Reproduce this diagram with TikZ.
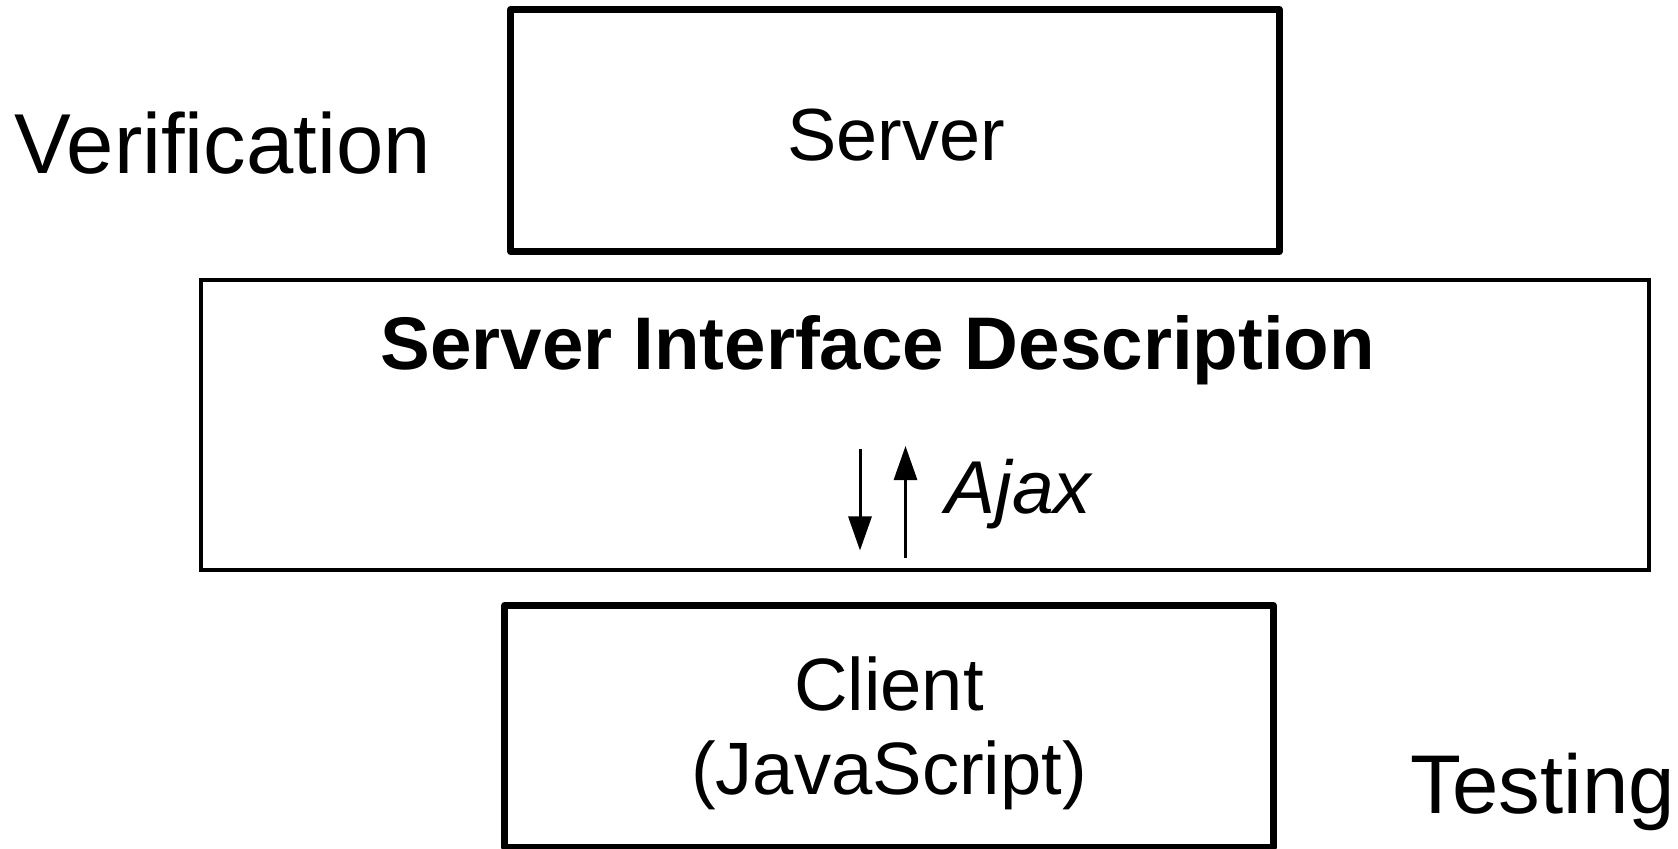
\documentclass[tikz,border=0pt]{standalone}
\usepackage{fontspec}
\setmainfont{Liberation Sans}
\usetikzlibrary{positioning,arrows.meta}
\tikzset{
  tier/.style={
    draw,
    line width=2pt,
    line join=round,
    inner sep=0pt,
    minimum width=7.68cm,
    minimum height=2.42cm
  },
  layer/.style={
    draw,
    line width=1.15pt,
    inner sep=0pt,
    minimum width=14.48cm,
    minimum height=2.9cm
  },
  lbl/.style={
    inner sep=0pt,
    anchor=base
  },
  msg/.style={
    line width=0.85pt,
    -{Triangle[length=0.34cm,width=0.23cm]}
  },
}
\begin{document}
\begin{tikzpicture}[x=0.01cm,y=-0.01cm]
\useasboundingbox (0,0) rectangle (1678,848);
% the three layers
\node[tier] (server) at (895,130.5) {};
\node[layer] (sid) at (925,425) {};
\node[tier] (client) at (889,726.5) {};
% texts
\node[lbl, font=\fontsize{21}{25}\selectfont] (servertxt) at (896,160) {Server};
\node[lbl, font=\fontsize{21.2}{25}\selectfont\bfseries] (sidtxt) at (878,369) {Server Interface Description};
\node[lbl, align=center, font=\fontsize{21.1}{23.8}\selectfont] (clienttxt) at (889,794) {Client\\(JavaScript)};
\node[lbl, anchor=base west, font=\fontsize{24.2}{28}\selectfont] (verif) at (14,173.3) {Verification};
\node[lbl, anchor=base west, font=\fontsize{23.7}{28}\selectfont] (testing) at (1410,813) {Testing};
% ajax calls
\coordinate (reqtop) at (860,449);
\coordinate (reqbot) at (860,550.5);
\coordinate (resbot) at (905.5,557.5);
\coordinate (restop) at (905.5,446);
\draw[msg] (reqtop) -- (reqbot);
\draw[msg] (resbot) -- (restop);
\node[lbl, anchor=base west, font=\fontsize{21.3}{25}\selectfont\itshape] (ajax) at (945,513) {Ajax};
\end{tikzpicture}
\end{document}
